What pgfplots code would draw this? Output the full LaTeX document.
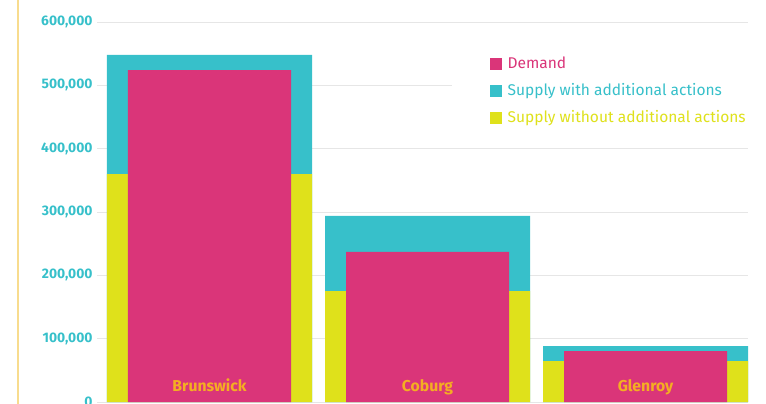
\documentclass[border=0pt]{standalone}
\usepackage{pgfplots}
\pgfplotsset{compat=1.18}
\usepackage{fontspec}
\setmainfont{Fira Sans}
\definecolor{dem}{HTML}{DA3579}
\definecolor{cya}{HTML}{37C0CA}
\definecolor{yel}{HTML}{DFE11B}
\definecolor{org}{HTML}{F4AE22}
\definecolor{grd}{HTML}{E6E6E6}
\definecolor{lft}{HTML}{F8DC8E}
\begin{document}
\begin{tikzpicture}
\useasboundingbox (0,0) rectangle (766bp,404bp);
\draw[lft, line width=2.5bp] (18bp,0) -- (18bp,404bp);
\begin{axis}[
  at={(97bp,2bp)}, anchor=south west,
  width=651bp, height=380bp, scale only axis,
  xmin=-0.516, xmax=2.470, ymin=0, ymax=600000,
  axis line style={draw=none},
  major tick length=0pt,
  ytick={0,100000,200000,300000,400000,500000,600000},
  ymajorgrids, grid style={grd, line width=1bp},
  xtick=\empty,
  yticklabel style={font=\bfseries\fontsize{13.9}{14}\selectfont, text=cya, xshift=-1bp},
  /pgf/number format/assume math mode=true,
  yticklabel style={/pgf/number format/.cd, fixed, 1000 sep={,}},
  scaled y ticks=false,
  clip=false,
  legend image code/.code={\fill[#1] (0bp,-5.5bp) rectangle (11bp,5.5bp);},
  legend style={at={(rel axis cs:0.5453,0.93)}, anchor=north west, fill=white, draw=none,
    inner xsep=38bp, inner ysep=6bp, row sep=9.5bp,
    nodes={inner xsep=6bp},
    font=\fontsize{15.6}{17}\selectfont},
  legend cell align=left,
]
\addplot[ybar, bar width=205bp, bar shift=0pt, fill=cya, draw=none, forget plot]
  coordinates {(0,548000) (1,293700) (2,88400)};
\addplot[ybar, bar width=205bp, bar shift=0pt, fill=yel, draw=none, forget plot]
  coordinates {(0,360000) (1,175000) (2,64700)};
\addplot[ybar, bar width=163bp, bar shift=0pt, fill=dem, draw=none, forget plot]
  coordinates {(0,524000) (1,237000) (2,80500)};
\addlegendimage{dem}
\addlegendentry{\textcolor{dem}{Demand}}
\addlegendimage{cya}
\addlegendentry{\textcolor{cya}{Supply with additional actions}}
\addlegendimage{yel}
\addlegendentry{\textcolor{yel}{Supply without additional actions}}
\node[anchor=base, text=org, font=\bfseries\fontsize{15.8}{16}\selectfont] at (axis cs:0,16000) {Brunswick};
\node[anchor=base, text=org, font=\bfseries\fontsize{15.8}{16}\selectfont] at (axis cs:1,16000) {Coburg};
\node[anchor=base, text=org, font=\bfseries\fontsize{15.8}{16}\selectfont] at (axis cs:2,16000) {Glenroy};
\end{axis}
\end{tikzpicture}
\end{document}
